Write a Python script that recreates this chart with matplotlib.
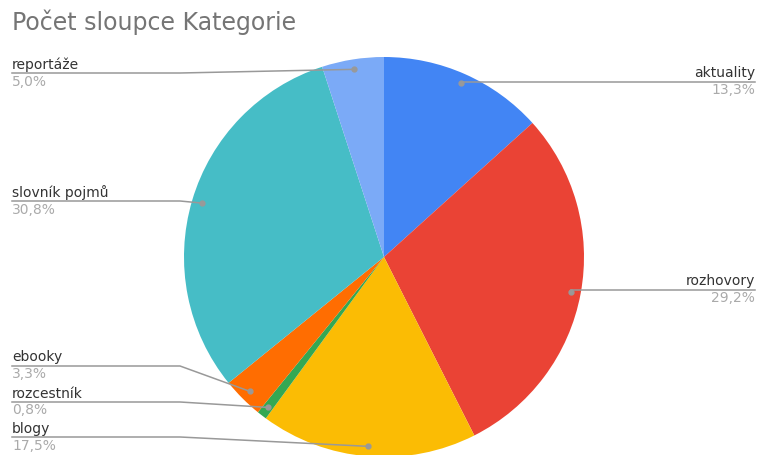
import matplotlib.pyplot as plt
import numpy as np

# data (clockwise from top)
categories = ["aktuality", "rozhovory", "blogy", "rozcestník", "ebooky", "slovník pojmů", "reportáže"]
shares = [13.3, 29.2, 17.5, 0.8, 3.3, 30.8, 5.0]
colors = ["#4285F4", "#EA4335", "#FBBC04", "#34A853", "#FF6D01", "#46BDC6", "#7BAAF7"]

# label layout in pixels from top: side, leader line y
label_side = ["right", "right", "left", "left", "left", "left", "left"]
label_line_y = [82, 290, 437, 402, 366, 201, 73]

W, H = 760, 455
fig = plt.figure(figsize=(W / 100, H / 100), dpi=100)
ax = fig.add_axes([0, 0, 1, 1])
ax.set_xlim(0, W)
ax.set_ylim(0, H)
ax.set_aspect("equal")
ax.axis("off")

cx, cy, r = 384, H - 257, 200
wedges, _ = ax.pie(shares, colors=colors, startangle=90, counterclock=False,
                   center=(cx, cy), radius=r, wedgeprops=dict(linewidth=0))
ax.set_xlim(0, W)
ax.set_ylim(0, H)

fig.text(12 / W, 1 - 22 / H, "Počet sloupce Kategorie", fontsize=17,
         color="#757575", va="center", ha="left")

line_col = "#999999"
for w, name, val, side, ly in zip(wedges, categories, shares, label_side, label_line_y):
    mid = np.deg2rad((w.theta1 + w.theta2) / 2)
    dx, dy = cx + 0.95 * r * np.cos(mid), cy + 0.95 * r * np.sin(mid)
    y = H - ly
    if side == "right":
        ax.plot([dx, 755], [y, y], color=line_col, lw=1.1)
        tx, ha = 755, "right"
    else:
        ax.plot([12, min(180, dx), dx], [y, y, dy], color=line_col, lw=1.1)
        tx, ha = 12, "left"
    ax.plot(dx, dy, "o", color=line_col, ms=3.5)
    ax.text(tx, y + 1.5, name, fontsize=10, color="#333333", ha=ha, va="bottom")
    ax.text(tx, y - 1.5, f"{val:.1f}%".replace(".", ","), fontsize=10,
            color="#aaaaaa", ha=ha, va="top")

fig.savefig("out.png", dpi=100)
